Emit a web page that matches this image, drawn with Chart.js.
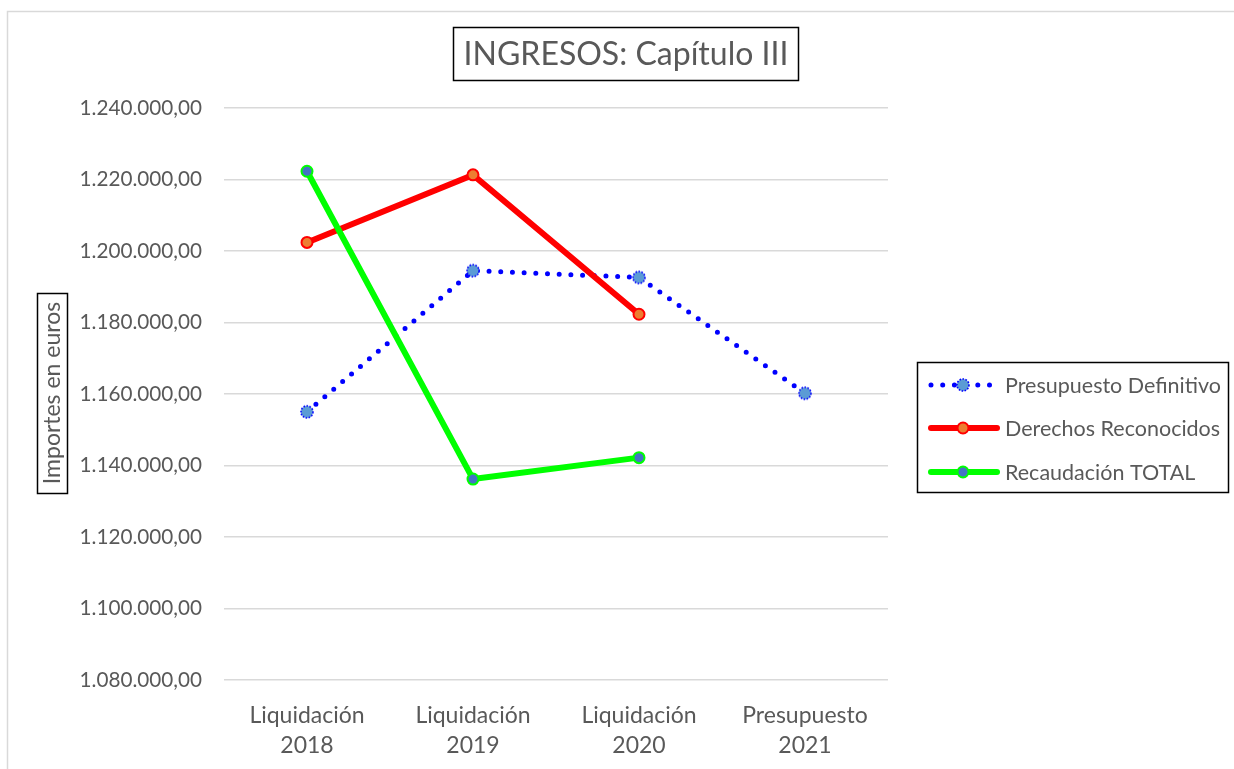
<!DOCTYPE html>
<html lang="es">
<head>
    <meta charset="UTF-8">
    <title>INGRESOS: Capítulo III</title>
    <script src="https://cdn.jsdelivr.net/npm/chart.js"></script>
    <style>
        html, body { margin: 0; padding: 0; background: #ffffff; }
        #wrap { width: 1234px; height: 769px; position: relative; }
    </style>
</head>
<body>
    <div id="wrap"><canvas id="chart" width="1234" height="769"></canvas></div>

    <script>
        // datos
        const categories = [
            ['Liquidación', '2018'],
            ['Liquidación', '2019'],
            ['Liquidación', '2020'],
            ['Presupuesto', '2021']
        ];
        const presupuestoDefinitivo = [1155000, 1194500, 1192600, 1160200];
        const derechosReconocidos = [1202400, 1221300, 1182300, null];
        const recaudacionTotal = [1222300, 1136200, 1142200, null];
        const seriesNames = ['Presupuesto Definitivo', 'Derechos Reconocidos', 'Recaudación TOTAL'];
        const yMin = 1080000, yMax = 1240000, yStep = 20000;

        const FONT = 'Lato';
        const TEXT = '#595959';

        function formatEuros(v) {
            const s = Math.round(v).toString().replace(/\B(?=(\d{3})+(?!\d))/g, '.');
            return s + ',00';
        }

        // marcador azul con borde punteado
        function dottedMarker() {
            const c = document.createElement('canvas');
            c.width = 16; c.height = 16;
            const x = c.getContext('2d');
            x.beginPath();
            x.arc(8, 8, 6, 0, Math.PI * 2);
            x.fillStyle = '#5B9BD5';
            x.fill();
            x.setLineDash([1.6, 1.4]);
            x.lineWidth = 1.6;
            x.strokeStyle = '#0000FF';
            x.stroke();
            return c;
        }
        const blueMarker = dottedMarker();

        const decor = {
            id: 'decor',
            beforeDraw(chart) {
                const ctx = chart.ctx;
                ctx.save();
                ctx.strokeStyle = '#D9D9D9';
                ctx.lineWidth = 1.5;
                ctx.strokeRect(7.5, 11.5, 1400, 900);
                ctx.restore();
            },
            afterDraw(chart) {
                const ctx = chart.ctx;
                ctx.save();

                // titulo
                ctx.font = '32px ' + FONT;
                ctx.fillStyle = TEXT;
                ctx.textAlign = 'center';
                ctx.textBaseline = 'middle';
                ctx.fillText('INGRESOS: Capítulo III', 626, 55);
                ctx.strokeStyle = '#000000';
                ctx.lineWidth = 1.5;
                ctx.strokeRect(453.5, 27.5, 345, 53);

                // titulo eje Y
                ctx.save();
                ctx.translate(53, 393);
                ctx.rotate(-Math.PI / 2);
                ctx.font = '23px ' + FONT;
                ctx.fillText('Importes en euros', 0, 0);
                ctx.restore();
                ctx.strokeRect(37.5, 293.5, 30, 200);

                // leyenda
                ctx.strokeRect(917.5, 362.5, 311, 130);
                const rows = [385, 428, 472];
                chart.data.datasets.forEach((ds, i) => {
                    const y = rows[i];
                    ctx.save();
                    ctx.strokeStyle = ds.borderColor;
                    ctx.lineWidth = ds.borderWidth;
                    ctx.lineCap = 'round';
                    if (ds.borderDash) ctx.setLineDash(ds.borderDash);
                    ctx.beginPath();
                    ctx.moveTo(931, y);
                    ctx.lineTo(997, y);
                    ctx.stroke();
                    ctx.restore();
                    if (ds.pointStyle && typeof ds.pointStyle === 'object') {
                        ctx.drawImage(ds.pointStyle, 963 - 8, y - 8);
                    } else {
                        ctx.beginPath();
                        ctx.arc(963, y, ds.pointRadius, 0, Math.PI * 2);
                        ctx.fillStyle = ds.pointBackgroundColor;
                        ctx.fill();
                        ctx.lineWidth = ds.pointBorderWidth;
                        ctx.strokeStyle = ds.pointBorderColor;
                        ctx.stroke();
                    }
                    ctx.font = '21.5px ' + FONT;
                    ctx.fillStyle = TEXT;
                    ctx.textAlign = 'left';
                    ctx.textBaseline = 'middle';
                    ctx.fillText(ds.label, 1005, y + 1);
                });
                ctx.restore();
            }
        };

        new Chart(document.getElementById('chart').getContext('2d'), {
            type: 'line',
            data: {
                labels: categories,
                datasets: [{
                    label: seriesNames[0],
                    data: presupuestoDefinitivo,
                    borderColor: '#0000FF',
                    borderWidth: 5,
                    borderDash: [0, 11.7],
                    borderCapStyle: 'round',
                    pointStyle: blueMarker,
                    pointRadius: 7,
                    order: 2
                }, {
                    label: seriesNames[1],
                    data: derechosReconocidos,
                    borderColor: '#FF0000',
                    borderWidth: 6,
                    borderCapStyle: 'round',
                    pointRadius: 5.5,
                    pointBorderWidth: 2,
                    pointBackgroundColor: '#ED7D31',
                    pointBorderColor: '#FF0000',
                    order: 1
                }, {
                    label: seriesNames[2],
                    data: recaudacionTotal,
                    borderColor: '#00FF00',
                    borderWidth: 6,
                    borderCapStyle: 'round',
                    pointRadius: 5.5,
                    pointBorderWidth: 2,
                    pointBackgroundColor: '#4472C4',
                    pointBorderColor: '#00FF00',
                    order: 0
                }]
            },
            options: {
                responsive: false,
                animation: false,
                events: [],
                layout: { padding: { top: 108, right: 346, left: 0, bottom: 0 } },
                plugins: {
                    legend: { display: false },
                    title: { display: false },
                    tooltip: { enabled: false }
                },
                scales: {
                    x: {
                        offset: true,
                        grid: { display: false },
                        border: { display: false },
                        ticks: {
                            color: TEXT,
                            font: { family: FONT, size: 23, lineHeight: 1.3 },
                            padding: 13,
                            maxRotation: 0,
                            autoSkip: false
                        },
                        afterFit: s => { s.height = 89; }
                    },
                    y: {
                        min: yMin,
                        max: yMax,
                        grid: { color: '#D9D9D9', lineWidth: 1.5, drawTicks: false },
                        border: { display: false },
                        ticks: {
                            stepSize: yStep,
                            color: TEXT,
                            font: { family: FONT, size: 20.7 },
                            padding: 22,
                            callback: v => formatEuros(v)
                        },
                        afterFit: s => { s.width = 224; }
                    }
                }
            },
            plugins: [decor]
        });
    </script>
</body>
</html>
